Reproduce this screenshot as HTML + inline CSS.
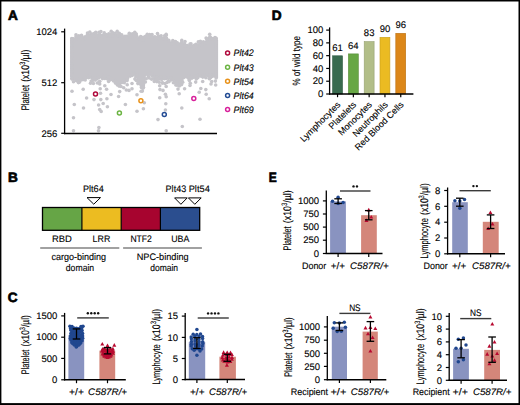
<!DOCTYPE html>
<html><head><meta charset="utf-8"><style>
html,body{margin:0;padding:0;background:#fff;}
svg{display:block;font-family:"Liberation Sans", sans-serif;text-rendering:geometricPrecision;}
text{stroke:#000;stroke-width:0.12px;}
</style></head><body>
<svg width="520" height="405" viewBox="0 0 520 405">
<rect x="0" y="0" width="520" height="405" fill="#000"/>
<rect x="1.4" y="1.5" width="517.1" height="401.6" fill="#fff"/>
<text x="8.1" y="19.7" font-size="13.6" font-weight="bold" style="stroke-width:0.7px">A</text>
<text x="8.0" y="181.9" font-size="13.6" font-weight="bold" style="stroke-width:0.7px">B</text>
<text x="7.7" y="302.0" font-size="13.6" font-weight="bold" style="stroke-width:0.7px">C</text>
<text x="271.7" y="19.7" font-size="13.6" font-weight="bold" style="stroke-width:0.7px">D</text>
<text x="268.8" y="181.9" font-size="13.6" font-weight="bold" textLength="8.0" lengthAdjust="spacingAndGlyphs" style="stroke-width:0.7px">E</text>
<path d="M71.8,36.8 L73.0,39.8 L76.0,38.8 L78.0,35.3 L81.0,35.3 L83.0,37.8 L85.0,38.8 L87.0,34.8 L90.0,33.8 L94.0,33.8 L97.0,34.3 L100.0,34.8 L104.0,34.8 L108.0,33.8 L110.0,33.3 L113.0,34.3 L115.0,33.3 L118.0,33.8 L121.0,35.3 L124.0,35.8 L127.0,36.8 L130.0,34.8 L133.0,33.3 L136.0,34.8 L138.0,37.8 L143.0,38.3 L146.0,35.8 L147.0,34.3 L150.0,35.3 L152.0,34.8 L154.0,36.8 L157.0,36.3 L160.0,36.8 L162.0,36.8 L165.0,36.8 L167.0,35.8 L169.0,40.8 L172.0,42.8 L175.0,42.3 L176.0,41.3 L178.0,43.3 L180.0,43.3 L182.0,39.8 L184.0,44.3 L190.0,44.8 L195.0,45.3 L200.0,43.3 L204.0,42.3 L207.0,39.8 L209.0,34.8 L211.0,35.8 L213.0,38.8 L216.0,39.3 L216.2,39.8 L216.2,79.2 L215.0,77.2 L210.0,76.2 L205.0,76.2 L200.0,77.2 L196.0,78.2 L190.0,78.2 L184.0,78.2 L182.0,84.2 L179.0,86.2 L176.0,85.2 L174.0,80.2 L170.0,79.2 L165.0,79.2 L160.0,79.2 L155.0,78.2 L153.0,76.2 L150.0,75.2 L146.0,75.2 L145.0,86.2 L143.0,90.2 L141.0,88.2 L138.0,83.2 L136.0,76.2 L133.0,74.7 L130.0,75.2 L128.0,79.2 L125.0,82.7 L120.0,83.7 L115.0,82.7 L112.0,79.7 L108.0,77.7 L104.0,77.7 L100.0,78.2 L96.0,80.2 L92.0,80.2 L90.0,77.2 L88.0,78.2 L85.0,80.2 L80.0,81.2 L75.0,80.7 L71.8,79.2 Z" fill="#c5c4c9"/>
<rect x="70.1" y="40" width="3" height="37" fill="#c5c4c9"/>
<rect x="215" y="40" width="3.1" height="38" fill="#c5c4c9"/>
<circle cx="71.8" cy="38.8" r="1.8" fill="#c5c4c9"/>
<circle cx="72.6" cy="40.4" r="1.8" fill="#c5c4c9"/>
<circle cx="72.0" cy="79.1" r="1.8" fill="#c5c4c9"/>
<circle cx="71.9" cy="78.3" r="1.8" fill="#c5c4c9"/>
<circle cx="73.6" cy="38.9" r="1.8" fill="#c5c4c9"/>
<circle cx="73.5" cy="41.5" r="1.8" fill="#c5c4c9"/>
<circle cx="73.5" cy="81.8" r="1.8" fill="#c5c4c9"/>
<circle cx="74.9" cy="79.0" r="1.8" fill="#c5c4c9"/>
<circle cx="76.0" cy="36.8" r="1.8" fill="#c5c4c9"/>
<circle cx="76.5" cy="39.0" r="1.8" fill="#c5c4c9"/>
<circle cx="76.0" cy="34.7" r="1.8" fill="#c5c4c9"/>
<circle cx="76.4" cy="80.8" r="1.8" fill="#c5c4c9"/>
<circle cx="77.0" cy="79.2" r="1.8" fill="#c5c4c9"/>
<circle cx="78.8" cy="35.7" r="1.8" fill="#c5c4c9"/>
<circle cx="78.7" cy="36.7" r="1.8" fill="#c5c4c9"/>
<circle cx="79.6" cy="82.1" r="1.8" fill="#c5c4c9"/>
<circle cx="79.1" cy="79.1" r="1.8" fill="#c5c4c9"/>
<circle cx="78.4" cy="82.6" r="1.8" fill="#c5c4c9"/>
<circle cx="81.5" cy="35.2" r="1.8" fill="#c5c4c9"/>
<circle cx="81.7" cy="37.0" r="1.8" fill="#c5c4c9"/>
<circle cx="81.7" cy="79.8" r="1.8" fill="#c5c4c9"/>
<circle cx="80.6" cy="79.9" r="1.8" fill="#c5c4c9"/>
<circle cx="84.2" cy="37.8" r="1.8" fill="#c5c4c9"/>
<circle cx="82.7" cy="39.9" r="1.8" fill="#c5c4c9"/>
<circle cx="83.0" cy="79.5" r="1.8" fill="#c5c4c9"/>
<circle cx="83.1" cy="79.5" r="1.8" fill="#c5c4c9"/>
<circle cx="85.1" cy="36.8" r="1.8" fill="#c5c4c9"/>
<circle cx="85.1" cy="38.5" r="1.8" fill="#c5c4c9"/>
<circle cx="85.2" cy="80.0" r="1.8" fill="#c5c4c9"/>
<circle cx="85.6" cy="77.6" r="1.8" fill="#c5c4c9"/>
<circle cx="87.4" cy="34.8" r="1.8" fill="#c5c4c9"/>
<circle cx="87.4" cy="36.1" r="1.8" fill="#c5c4c9"/>
<circle cx="87.5" cy="33.1" r="1.8" fill="#c5c4c9"/>
<circle cx="88.5" cy="77.8" r="1.8" fill="#c5c4c9"/>
<circle cx="88.6" cy="76.1" r="1.8" fill="#c5c4c9"/>
<circle cx="90.9" cy="34.1" r="1.8" fill="#c5c4c9"/>
<circle cx="89.7" cy="36.2" r="1.8" fill="#c5c4c9"/>
<circle cx="89.8" cy="32.0" r="1.8" fill="#c5c4c9"/>
<circle cx="90.0" cy="77.2" r="1.8" fill="#c5c4c9"/>
<circle cx="89.6" cy="75.4" r="1.8" fill="#c5c4c9"/>
<circle cx="92.2" cy="34.0" r="1.8" fill="#c5c4c9"/>
<circle cx="92.4" cy="35.4" r="1.8" fill="#c5c4c9"/>
<circle cx="92.6" cy="80.5" r="1.8" fill="#c5c4c9"/>
<circle cx="93.2" cy="78.1" r="1.8" fill="#c5c4c9"/>
<circle cx="93.4" cy="83.5" r="1.8" fill="#c5c4c9"/>
<circle cx="94.5" cy="33.2" r="1.8" fill="#c5c4c9"/>
<circle cx="95.3" cy="36.3" r="1.8" fill="#c5c4c9"/>
<circle cx="95.8" cy="32.4" r="1.8" fill="#c5c4c9"/>
<circle cx="95.1" cy="80.1" r="1.8" fill="#c5c4c9"/>
<circle cx="94.3" cy="77.9" r="1.8" fill="#c5c4c9"/>
<circle cx="96.8" cy="34.8" r="1.8" fill="#c5c4c9"/>
<circle cx="96.8" cy="36.5" r="1.8" fill="#c5c4c9"/>
<circle cx="96.9" cy="78.9" r="1.8" fill="#c5c4c9"/>
<circle cx="97.6" cy="77.3" r="1.8" fill="#c5c4c9"/>
<circle cx="97.3" cy="83.0" r="1.8" fill="#c5c4c9"/>
<circle cx="99.7" cy="34.2" r="1.8" fill="#c5c4c9"/>
<circle cx="100.2" cy="36.0" r="1.8" fill="#c5c4c9"/>
<circle cx="99.0" cy="32.3" r="1.8" fill="#c5c4c9"/>
<circle cx="98.8" cy="77.7" r="1.8" fill="#c5c4c9"/>
<circle cx="99.3" cy="76.9" r="1.8" fill="#c5c4c9"/>
<circle cx="99.2" cy="82.0" r="1.8" fill="#c5c4c9"/>
<circle cx="102.6" cy="35.2" r="1.8" fill="#c5c4c9"/>
<circle cx="102.1" cy="36.6" r="1.8" fill="#c5c4c9"/>
<circle cx="100.9" cy="31.5" r="1.8" fill="#c5c4c9"/>
<circle cx="102.5" cy="78.6" r="1.8" fill="#c5c4c9"/>
<circle cx="102.5" cy="75.6" r="1.8" fill="#c5c4c9"/>
<circle cx="104.1" cy="35.3" r="1.8" fill="#c5c4c9"/>
<circle cx="103.8" cy="37.2" r="1.8" fill="#c5c4c9"/>
<circle cx="104.2" cy="32.9" r="1.8" fill="#c5c4c9"/>
<circle cx="104.7" cy="78.4" r="1.8" fill="#c5c4c9"/>
<circle cx="104.4" cy="76.4" r="1.8" fill="#c5c4c9"/>
<circle cx="106.2" cy="34.6" r="1.8" fill="#c5c4c9"/>
<circle cx="107.0" cy="36.4" r="1.8" fill="#c5c4c9"/>
<circle cx="106.9" cy="78.7" r="1.8" fill="#c5c4c9"/>
<circle cx="106.5" cy="76.2" r="1.8" fill="#c5c4c9"/>
<circle cx="108.8" cy="33.9" r="1.8" fill="#c5c4c9"/>
<circle cx="108.0" cy="35.5" r="1.8" fill="#c5c4c9"/>
<circle cx="109.3" cy="78.7" r="1.8" fill="#c5c4c9"/>
<circle cx="108.5" cy="76.7" r="1.8" fill="#c5c4c9"/>
<circle cx="110.9" cy="34.4" r="1.8" fill="#c5c4c9"/>
<circle cx="110.3" cy="35.7" r="1.8" fill="#c5c4c9"/>
<circle cx="111.2" cy="31.3" r="1.8" fill="#c5c4c9"/>
<circle cx="110.6" cy="79.8" r="1.8" fill="#c5c4c9"/>
<circle cx="111.0" cy="77.7" r="1.8" fill="#c5c4c9"/>
<circle cx="112.9" cy="33.0" r="1.8" fill="#c5c4c9"/>
<circle cx="113.0" cy="36.1" r="1.8" fill="#c5c4c9"/>
<circle cx="112.6" cy="32.7" r="1.8" fill="#c5c4c9"/>
<circle cx="113.6" cy="80.9" r="1.8" fill="#c5c4c9"/>
<circle cx="113.9" cy="79.1" r="1.8" fill="#c5c4c9"/>
<circle cx="115.1" cy="33.2" r="1.8" fill="#c5c4c9"/>
<circle cx="116.1" cy="35.7" r="1.8" fill="#c5c4c9"/>
<circle cx="115.4" cy="83.1" r="1.8" fill="#c5c4c9"/>
<circle cx="115.3" cy="80.6" r="1.8" fill="#c5c4c9"/>
<circle cx="118.4" cy="34.6" r="1.8" fill="#c5c4c9"/>
<circle cx="118.2" cy="36.1" r="1.8" fill="#c5c4c9"/>
<circle cx="117.2" cy="31.4" r="1.8" fill="#c5c4c9"/>
<circle cx="117.5" cy="82.6" r="1.8" fill="#c5c4c9"/>
<circle cx="117.8" cy="81.8" r="1.8" fill="#c5c4c9"/>
<circle cx="119.9" cy="35.7" r="1.8" fill="#c5c4c9"/>
<circle cx="121.0" cy="36.5" r="1.8" fill="#c5c4c9"/>
<circle cx="119.3" cy="33.3" r="1.8" fill="#c5c4c9"/>
<circle cx="119.5" cy="84.3" r="1.8" fill="#c5c4c9"/>
<circle cx="120.3" cy="81.7" r="1.8" fill="#c5c4c9"/>
<circle cx="121.7" cy="34.7" r="1.8" fill="#c5c4c9"/>
<circle cx="122.4" cy="36.6" r="1.8" fill="#c5c4c9"/>
<circle cx="122.1" cy="82.4" r="1.8" fill="#c5c4c9"/>
<circle cx="121.8" cy="81.7" r="1.8" fill="#c5c4c9"/>
<circle cx="125.0" cy="36.4" r="1.8" fill="#c5c4c9"/>
<circle cx="125.3" cy="38.4" r="1.8" fill="#c5c4c9"/>
<circle cx="124.3" cy="82.8" r="1.8" fill="#c5c4c9"/>
<circle cx="124.3" cy="80.4" r="1.8" fill="#c5c4c9"/>
<circle cx="127.4" cy="36.0" r="1.8" fill="#c5c4c9"/>
<circle cx="126.7" cy="38.2" r="1.8" fill="#c5c4c9"/>
<circle cx="127.1" cy="80.6" r="1.8" fill="#c5c4c9"/>
<circle cx="127.5" cy="78.4" r="1.8" fill="#c5c4c9"/>
<circle cx="130.0" cy="34.2" r="1.8" fill="#c5c4c9"/>
<circle cx="130.1" cy="37.2" r="1.8" fill="#c5c4c9"/>
<circle cx="129.3" cy="33.2" r="1.8" fill="#c5c4c9"/>
<circle cx="130.1" cy="76.2" r="1.8" fill="#c5c4c9"/>
<circle cx="129.5" cy="75.2" r="1.8" fill="#c5c4c9"/>
<circle cx="132.4" cy="33.9" r="1.8" fill="#c5c4c9"/>
<circle cx="131.9" cy="35.2" r="1.8" fill="#c5c4c9"/>
<circle cx="132.2" cy="75.4" r="1.8" fill="#c5c4c9"/>
<circle cx="132.0" cy="72.8" r="1.8" fill="#c5c4c9"/>
<circle cx="134.8" cy="34.9" r="1.8" fill="#c5c4c9"/>
<circle cx="134.1" cy="35.9" r="1.8" fill="#c5c4c9"/>
<circle cx="134.8" cy="32.2" r="1.8" fill="#c5c4c9"/>
<circle cx="133.8" cy="74.2" r="1.8" fill="#c5c4c9"/>
<circle cx="133.9" cy="73.6" r="1.8" fill="#c5c4c9"/>
<circle cx="136.3" cy="34.1" r="1.8" fill="#c5c4c9"/>
<circle cx="136.8" cy="36.3" r="1.8" fill="#c5c4c9"/>
<circle cx="135.8" cy="76.9" r="1.8" fill="#c5c4c9"/>
<circle cx="136.8" cy="75.0" r="1.8" fill="#c5c4c9"/>
<circle cx="136.3" cy="80.4" r="1.8" fill="#c5c4c9"/>
<circle cx="139.1" cy="38.3" r="1.8" fill="#c5c4c9"/>
<circle cx="139.3" cy="39.5" r="1.8" fill="#c5c4c9"/>
<circle cx="137.9" cy="83.6" r="1.8" fill="#c5c4c9"/>
<circle cx="138.6" cy="82.2" r="1.8" fill="#c5c4c9"/>
<circle cx="141.1" cy="38.1" r="1.8" fill="#c5c4c9"/>
<circle cx="141.4" cy="39.9" r="1.8" fill="#c5c4c9"/>
<circle cx="140.7" cy="36.5" r="1.8" fill="#c5c4c9"/>
<circle cx="141.5" cy="87.4" r="1.8" fill="#c5c4c9"/>
<circle cx="141.5" cy="87.0" r="1.8" fill="#c5c4c9"/>
<circle cx="143.3" cy="37.4" r="1.8" fill="#c5c4c9"/>
<circle cx="143.3" cy="39.8" r="1.8" fill="#c5c4c9"/>
<circle cx="142.4" cy="91.1" r="1.8" fill="#c5c4c9"/>
<circle cx="143.2" cy="88.0" r="1.8" fill="#c5c4c9"/>
<circle cx="145.6" cy="36.2" r="1.8" fill="#c5c4c9"/>
<circle cx="145.8" cy="37.3" r="1.8" fill="#c5c4c9"/>
<circle cx="145.4" cy="82.0" r="1.8" fill="#c5c4c9"/>
<circle cx="146.2" cy="78.7" r="1.8" fill="#c5c4c9"/>
<circle cx="147.2" cy="34.4" r="1.8" fill="#c5c4c9"/>
<circle cx="148.3" cy="36.8" r="1.8" fill="#c5c4c9"/>
<circle cx="147.5" cy="74.5" r="1.8" fill="#c5c4c9"/>
<circle cx="148.0" cy="74.1" r="1.8" fill="#c5c4c9"/>
<circle cx="148.4" cy="76.6" r="1.8" fill="#c5c4c9"/>
<circle cx="149.6" cy="34.6" r="1.8" fill="#c5c4c9"/>
<circle cx="150.4" cy="36.7" r="1.8" fill="#c5c4c9"/>
<circle cx="150.3" cy="74.3" r="1.8" fill="#c5c4c9"/>
<circle cx="150.5" cy="73.0" r="1.8" fill="#c5c4c9"/>
<circle cx="152.0" cy="34.5" r="1.8" fill="#c5c4c9"/>
<circle cx="152.4" cy="36.8" r="1.8" fill="#c5c4c9"/>
<circle cx="152.3" cy="76.2" r="1.8" fill="#c5c4c9"/>
<circle cx="151.9" cy="73.9" r="1.8" fill="#c5c4c9"/>
<circle cx="154.9" cy="36.8" r="1.8" fill="#c5c4c9"/>
<circle cx="155.3" cy="38.5" r="1.8" fill="#c5c4c9"/>
<circle cx="154.3" cy="78.6" r="1.8" fill="#c5c4c9"/>
<circle cx="155.2" cy="76.8" r="1.8" fill="#c5c4c9"/>
<circle cx="154.3" cy="81.5" r="1.8" fill="#c5c4c9"/>
<circle cx="156.5" cy="37.5" r="1.8" fill="#c5c4c9"/>
<circle cx="157.6" cy="37.5" r="1.8" fill="#c5c4c9"/>
<circle cx="157.5" cy="33.5" r="1.8" fill="#c5c4c9"/>
<circle cx="156.4" cy="79.6" r="1.8" fill="#c5c4c9"/>
<circle cx="156.9" cy="77.3" r="1.8" fill="#c5c4c9"/>
<circle cx="156.8" cy="81.6" r="1.8" fill="#c5c4c9"/>
<circle cx="158.5" cy="36.0" r="1.8" fill="#c5c4c9"/>
<circle cx="159.6" cy="39.0" r="1.8" fill="#c5c4c9"/>
<circle cx="158.7" cy="79.2" r="1.8" fill="#c5c4c9"/>
<circle cx="159.7" cy="77.4" r="1.8" fill="#c5c4c9"/>
<circle cx="161.1" cy="35.8" r="1.8" fill="#c5c4c9"/>
<circle cx="161.0" cy="37.9" r="1.8" fill="#c5c4c9"/>
<circle cx="161.6" cy="79.5" r="1.8" fill="#c5c4c9"/>
<circle cx="161.0" cy="77.1" r="1.8" fill="#c5c4c9"/>
<circle cx="162.3" cy="83.0" r="1.8" fill="#c5c4c9"/>
<circle cx="164.6" cy="35.8" r="1.8" fill="#c5c4c9"/>
<circle cx="163.2" cy="39.1" r="1.8" fill="#c5c4c9"/>
<circle cx="164.3" cy="78.8" r="1.8" fill="#c5c4c9"/>
<circle cx="163.8" cy="77.5" r="1.8" fill="#c5c4c9"/>
<circle cx="166.4" cy="35.0" r="1.8" fill="#c5c4c9"/>
<circle cx="166.5" cy="38.4" r="1.8" fill="#c5c4c9"/>
<circle cx="166.1" cy="34.4" r="1.8" fill="#c5c4c9"/>
<circle cx="166.0" cy="78.5" r="1.8" fill="#c5c4c9"/>
<circle cx="165.7" cy="77.5" r="1.8" fill="#c5c4c9"/>
<circle cx="167.0" cy="82.5" r="1.8" fill="#c5c4c9"/>
<circle cx="168.8" cy="40.4" r="1.8" fill="#c5c4c9"/>
<circle cx="168.7" cy="41.1" r="1.8" fill="#c5c4c9"/>
<circle cx="168.5" cy="80.6" r="1.8" fill="#c5c4c9"/>
<circle cx="169.0" cy="77.2" r="1.8" fill="#c5c4c9"/>
<circle cx="171.2" cy="42.7" r="1.8" fill="#c5c4c9"/>
<circle cx="171.3" cy="43.6" r="1.8" fill="#c5c4c9"/>
<circle cx="171.4" cy="80.0" r="1.8" fill="#c5c4c9"/>
<circle cx="171.2" cy="78.1" r="1.8" fill="#c5c4c9"/>
<circle cx="173.5" cy="41.6" r="1.8" fill="#c5c4c9"/>
<circle cx="172.8" cy="44.3" r="1.8" fill="#c5c4c9"/>
<circle cx="172.8" cy="40.6" r="1.8" fill="#c5c4c9"/>
<circle cx="173.3" cy="79.4" r="1.8" fill="#c5c4c9"/>
<circle cx="173.8" cy="78.5" r="1.8" fill="#c5c4c9"/>
<circle cx="173.4" cy="82.7" r="1.8" fill="#c5c4c9"/>
<circle cx="175.5" cy="41.6" r="1.8" fill="#c5c4c9"/>
<circle cx="176.2" cy="43.8" r="1.8" fill="#c5c4c9"/>
<circle cx="175.8" cy="85.0" r="1.8" fill="#c5c4c9"/>
<circle cx="174.6" cy="82.2" r="1.8" fill="#c5c4c9"/>
<circle cx="177.3" cy="42.8" r="1.8" fill="#c5c4c9"/>
<circle cx="177.0" cy="44.3" r="1.8" fill="#c5c4c9"/>
<circle cx="177.1" cy="85.2" r="1.8" fill="#c5c4c9"/>
<circle cx="178.3" cy="84.1" r="1.8" fill="#c5c4c9"/>
<circle cx="180.7" cy="43.5" r="1.8" fill="#c5c4c9"/>
<circle cx="180.8" cy="45.2" r="1.8" fill="#c5c4c9"/>
<circle cx="179.3" cy="85.9" r="1.8" fill="#c5c4c9"/>
<circle cx="180.4" cy="83.2" r="1.8" fill="#c5c4c9"/>
<circle cx="181.8" cy="40.4" r="1.8" fill="#c5c4c9"/>
<circle cx="181.8" cy="42.2" r="1.8" fill="#c5c4c9"/>
<circle cx="181.6" cy="84.6" r="1.8" fill="#c5c4c9"/>
<circle cx="182.2" cy="81.6" r="1.8" fill="#c5c4c9"/>
<circle cx="184.4" cy="43.8" r="1.8" fill="#c5c4c9"/>
<circle cx="184.8" cy="46.1" r="1.8" fill="#c5c4c9"/>
<circle cx="185.0" cy="41.6" r="1.8" fill="#c5c4c9"/>
<circle cx="183.8" cy="77.6" r="1.8" fill="#c5c4c9"/>
<circle cx="183.9" cy="76.0" r="1.8" fill="#c5c4c9"/>
<circle cx="186.7" cy="45.5" r="1.8" fill="#c5c4c9"/>
<circle cx="187.3" cy="45.6" r="1.8" fill="#c5c4c9"/>
<circle cx="187.6" cy="77.2" r="1.8" fill="#c5c4c9"/>
<circle cx="187.5" cy="76.4" r="1.8" fill="#c5c4c9"/>
<circle cx="190.0" cy="44.1" r="1.8" fill="#c5c4c9"/>
<circle cx="189.2" cy="47.0" r="1.8" fill="#c5c4c9"/>
<circle cx="189.1" cy="79.5" r="1.8" fill="#c5c4c9"/>
<circle cx="189.7" cy="76.6" r="1.8" fill="#c5c4c9"/>
<circle cx="189.4" cy="80.6" r="1.8" fill="#c5c4c9"/>
<circle cx="191.0" cy="43.9" r="1.8" fill="#c5c4c9"/>
<circle cx="191.5" cy="46.1" r="1.8" fill="#c5c4c9"/>
<circle cx="191.8" cy="78.2" r="1.8" fill="#c5c4c9"/>
<circle cx="191.1" cy="76.6" r="1.8" fill="#c5c4c9"/>
<circle cx="194.2" cy="45.3" r="1.8" fill="#c5c4c9"/>
<circle cx="194.6" cy="47.5" r="1.8" fill="#c5c4c9"/>
<circle cx="193.4" cy="77.3" r="1.8" fill="#c5c4c9"/>
<circle cx="194.4" cy="76.9" r="1.8" fill="#c5c4c9"/>
<circle cx="195.9" cy="44.3" r="1.8" fill="#c5c4c9"/>
<circle cx="196.4" cy="46.7" r="1.8" fill="#c5c4c9"/>
<circle cx="196.3" cy="78.9" r="1.8" fill="#c5c4c9"/>
<circle cx="195.6" cy="76.1" r="1.8" fill="#c5c4c9"/>
<circle cx="199.1" cy="44.8" r="1.8" fill="#c5c4c9"/>
<circle cx="197.7" cy="45.0" r="1.8" fill="#c5c4c9"/>
<circle cx="198.3" cy="41.9" r="1.8" fill="#c5c4c9"/>
<circle cx="197.8" cy="77.8" r="1.8" fill="#c5c4c9"/>
<circle cx="197.7" cy="75.3" r="1.8" fill="#c5c4c9"/>
<circle cx="200.8" cy="43.4" r="1.8" fill="#c5c4c9"/>
<circle cx="200.5" cy="44.8" r="1.8" fill="#c5c4c9"/>
<circle cx="200.4" cy="41.3" r="1.8" fill="#c5c4c9"/>
<circle cx="201.2" cy="76.1" r="1.8" fill="#c5c4c9"/>
<circle cx="200.1" cy="75.8" r="1.8" fill="#c5c4c9"/>
<circle cx="203.4" cy="41.9" r="1.8" fill="#c5c4c9"/>
<circle cx="202.9" cy="43.9" r="1.8" fill="#c5c4c9"/>
<circle cx="202.8" cy="77.1" r="1.8" fill="#c5c4c9"/>
<circle cx="203.8" cy="74.7" r="1.8" fill="#c5c4c9"/>
<circle cx="205.7" cy="42.2" r="1.8" fill="#c5c4c9"/>
<circle cx="205.2" cy="42.7" r="1.8" fill="#c5c4c9"/>
<circle cx="206.1" cy="38.1" r="1.8" fill="#c5c4c9"/>
<circle cx="204.6" cy="76.5" r="1.8" fill="#c5c4c9"/>
<circle cx="205.3" cy="74.8" r="1.8" fill="#c5c4c9"/>
<circle cx="205.9" cy="77.7" r="1.8" fill="#c5c4c9"/>
<circle cx="207.1" cy="38.7" r="1.8" fill="#c5c4c9"/>
<circle cx="206.9" cy="39.7" r="1.8" fill="#c5c4c9"/>
<circle cx="207.9" cy="75.7" r="1.8" fill="#c5c4c9"/>
<circle cx="207.0" cy="74.3" r="1.8" fill="#c5c4c9"/>
<circle cx="209.7" cy="34.3" r="1.8" fill="#c5c4c9"/>
<circle cx="210.2" cy="37.0" r="1.8" fill="#c5c4c9"/>
<circle cx="210.6" cy="77.4" r="1.8" fill="#c5c4c9"/>
<circle cx="209.8" cy="74.9" r="1.8" fill="#c5c4c9"/>
<circle cx="209.5" cy="78.5" r="1.8" fill="#c5c4c9"/>
<circle cx="212.9" cy="38.5" r="1.8" fill="#c5c4c9"/>
<circle cx="211.8" cy="39.1" r="1.8" fill="#c5c4c9"/>
<circle cx="212.0" cy="76.5" r="1.8" fill="#c5c4c9"/>
<circle cx="212.0" cy="74.5" r="1.8" fill="#c5c4c9"/>
<circle cx="215.0" cy="39.1" r="1.8" fill="#c5c4c9"/>
<circle cx="215.0" cy="40.8" r="1.8" fill="#c5c4c9"/>
<circle cx="215.0" cy="37.5" r="1.8" fill="#c5c4c9"/>
<circle cx="214.2" cy="76.0" r="1.8" fill="#c5c4c9"/>
<circle cx="214.5" cy="75.5" r="1.8" fill="#c5c4c9"/>
<circle cx="90.5" cy="83.2" r="1.8" fill="#c5c4c9"/>
<circle cx="99.8" cy="81.3" r="1.8" fill="#c5c4c9"/>
<circle cx="108.6" cy="81.4" r="1.8" fill="#c5c4c9"/>
<circle cx="119.1" cy="86.1" r="1.8" fill="#c5c4c9"/>
<circle cx="123.7" cy="87.7" r="1.8" fill="#c5c4c9"/>
<circle cx="127.2" cy="84.7" r="1.8" fill="#c5c4c9"/>
<circle cx="134.9" cy="79.1" r="1.8" fill="#c5c4c9"/>
<circle cx="141.1" cy="91.2" r="1.8" fill="#c5c4c9"/>
<circle cx="149.2" cy="78.0" r="1.8" fill="#c5c4c9"/>
<circle cx="151.7" cy="79.3" r="1.8" fill="#c5c4c9"/>
<circle cx="159.2" cy="82.3" r="1.8" fill="#c5c4c9"/>
<circle cx="162.5" cy="82.9" r="1.8" fill="#c5c4c9"/>
<circle cx="165.0" cy="83.6" r="1.8" fill="#c5c4c9"/>
<circle cx="169.1" cy="81.6" r="1.8" fill="#c5c4c9"/>
<circle cx="178.0" cy="89.1" r="1.8" fill="#c5c4c9"/>
<circle cx="182.7" cy="82.2" r="1.8" fill="#c5c4c9"/>
<circle cx="190.3" cy="83.3" r="1.8" fill="#c5c4c9"/>
<circle cx="195.7" cy="82.1" r="1.8" fill="#c5c4c9"/>
<circle cx="202.7" cy="81.5" r="1.8" fill="#c5c4c9"/>
<circle cx="209.3" cy="78.8" r="1.8" fill="#c5c4c9"/>
<circle cx="211.7" cy="81.6" r="1.8" fill="#c5c4c9"/>
<circle cx="215.4" cy="81.1" r="1.8" fill="#c5c4c9"/>
<circle cx="71.9" cy="38.5" r="1.8" fill="#c5c4c9"/>
<circle cx="216.2" cy="38.2" r="1.8" fill="#c5c4c9"/>
<circle cx="71.9" cy="40.3" r="1.8" fill="#c5c4c9"/>
<circle cx="216.2" cy="39.6" r="1.8" fill="#c5c4c9"/>
<circle cx="71.9" cy="42.0" r="1.8" fill="#c5c4c9"/>
<circle cx="216.2" cy="42.3" r="1.8" fill="#c5c4c9"/>
<circle cx="71.9" cy="43.6" r="1.8" fill="#c5c4c9"/>
<circle cx="216.2" cy="43.6" r="1.8" fill="#c5c4c9"/>
<circle cx="71.9" cy="46.2" r="1.8" fill="#c5c4c9"/>
<circle cx="216.2" cy="46.4" r="1.8" fill="#c5c4c9"/>
<circle cx="71.9" cy="47.6" r="1.8" fill="#c5c4c9"/>
<circle cx="216.2" cy="48.1" r="1.8" fill="#c5c4c9"/>
<circle cx="71.9" cy="49.6" r="1.8" fill="#c5c4c9"/>
<circle cx="216.2" cy="50.2" r="1.8" fill="#c5c4c9"/>
<circle cx="71.9" cy="52.1" r="1.8" fill="#c5c4c9"/>
<circle cx="216.2" cy="51.7" r="1.8" fill="#c5c4c9"/>
<circle cx="71.9" cy="53.7" r="1.8" fill="#c5c4c9"/>
<circle cx="216.2" cy="54.3" r="1.8" fill="#c5c4c9"/>
<circle cx="71.9" cy="56.0" r="1.8" fill="#c5c4c9"/>
<circle cx="216.2" cy="56.3" r="1.8" fill="#c5c4c9"/>
<circle cx="71.9" cy="57.9" r="1.8" fill="#c5c4c9"/>
<circle cx="216.2" cy="57.8" r="1.8" fill="#c5c4c9"/>
<circle cx="71.9" cy="60.5" r="1.8" fill="#c5c4c9"/>
<circle cx="216.2" cy="60.2" r="1.8" fill="#c5c4c9"/>
<circle cx="71.9" cy="62.0" r="1.8" fill="#c5c4c9"/>
<circle cx="216.2" cy="62.0" r="1.8" fill="#c5c4c9"/>
<circle cx="71.9" cy="64.2" r="1.8" fill="#c5c4c9"/>
<circle cx="216.2" cy="64.2" r="1.8" fill="#c5c4c9"/>
<circle cx="71.9" cy="66.4" r="1.8" fill="#c5c4c9"/>
<circle cx="216.2" cy="65.9" r="1.8" fill="#c5c4c9"/>
<circle cx="71.9" cy="68.3" r="1.8" fill="#c5c4c9"/>
<circle cx="216.2" cy="68.2" r="1.8" fill="#c5c4c9"/>
<circle cx="71.9" cy="70.4" r="1.8" fill="#c5c4c9"/>
<circle cx="216.2" cy="70.3" r="1.8" fill="#c5c4c9"/>
<circle cx="71.9" cy="72.3" r="1.8" fill="#c5c4c9"/>
<circle cx="216.2" cy="72.4" r="1.8" fill="#c5c4c9"/>
<circle cx="71.9" cy="74.5" r="1.8" fill="#c5c4c9"/>
<circle cx="216.2" cy="74.1" r="1.8" fill="#c5c4c9"/>
<circle cx="71.9" cy="76.0" r="1.8" fill="#c5c4c9"/>
<circle cx="216.2" cy="76.2" r="1.8" fill="#c5c4c9"/>
<circle cx="71.9" cy="78.3" r="1.8" fill="#c5c4c9"/>
<circle cx="216.2" cy="77.9" r="1.8" fill="#c5c4c9"/>
<circle cx="72.0" cy="91.2" r="1.8" fill="#c5c4c9"/>
<circle cx="83.2" cy="89.2" r="1.8" fill="#c5c4c9"/>
<circle cx="86.6" cy="98.0" r="1.8" fill="#c5c4c9"/>
<circle cx="74.3" cy="104.5" r="1.8" fill="#c5c4c9"/>
<circle cx="83.5" cy="108.0" r="1.8" fill="#c5c4c9"/>
<circle cx="73.5" cy="117.8" r="1.8" fill="#c5c4c9"/>
<circle cx="73.5" cy="130.7" r="1.8" fill="#c5c4c9"/>
<circle cx="94.0" cy="99.6" r="1.8" fill="#c5c4c9"/>
<circle cx="100.8" cy="99.6" r="1.8" fill="#c5c4c9"/>
<circle cx="98.6" cy="105.0" r="1.8" fill="#c5c4c9"/>
<circle cx="103.2" cy="103.5" r="1.8" fill="#c5c4c9"/>
<circle cx="99.7" cy="109.6" r="1.8" fill="#c5c4c9"/>
<circle cx="101.2" cy="111.5" r="1.8" fill="#c5c4c9"/>
<circle cx="107.4" cy="106.8" r="1.8" fill="#c5c4c9"/>
<circle cx="106.9" cy="98.8" r="1.8" fill="#c5c4c9"/>
<circle cx="111.0" cy="94.5" r="1.8" fill="#c5c4c9"/>
<circle cx="100.5" cy="93.2" r="1.8" fill="#c5c4c9"/>
<circle cx="100.2" cy="88.8" r="1.8" fill="#c5c4c9"/>
<circle cx="99.7" cy="84.0" r="1.8" fill="#c5c4c9"/>
<circle cx="104.8" cy="85.8" r="1.8" fill="#c5c4c9"/>
<circle cx="106.6" cy="89.2" r="1.8" fill="#c5c4c9"/>
<circle cx="98.9" cy="127.6" r="1.8" fill="#c5c4c9"/>
<circle cx="98.5" cy="130.7" r="1.8" fill="#c5c4c9"/>
<circle cx="118.6" cy="96.5" r="1.8" fill="#c5c4c9"/>
<circle cx="119.7" cy="91.6" r="1.8" fill="#c5c4c9"/>
<circle cx="125.4" cy="104.5" r="1.8" fill="#c5c4c9"/>
<circle cx="126.3" cy="90.0" r="1.8" fill="#c5c4c9"/>
<circle cx="129.0" cy="90.4" r="1.8" fill="#c5c4c9"/>
<circle cx="132.0" cy="83.5" r="1.8" fill="#c5c4c9"/>
<circle cx="132.0" cy="88.8" r="1.8" fill="#c5c4c9"/>
<circle cx="137.0" cy="94.7" r="1.8" fill="#c5c4c9"/>
<circle cx="137.0" cy="111.2" r="1.8" fill="#c5c4c9"/>
<circle cx="117.4" cy="85.0" r="1.8" fill="#c5c4c9"/>
<circle cx="91.2" cy="81.0" r="1.8" fill="#c5c4c9"/>
<circle cx="121.0" cy="86.5" r="1.8" fill="#c5c4c9"/>
<circle cx="143.4" cy="87.3" r="1.8" fill="#c5c4c9"/>
<circle cx="144.3" cy="102.7" r="1.8" fill="#c5c4c9"/>
<circle cx="143.4" cy="108.8" r="1.8" fill="#c5c4c9"/>
<circle cx="159.7" cy="85.8" r="1.8" fill="#c5c4c9"/>
<circle cx="160.0" cy="89.6" r="1.8" fill="#c5c4c9"/>
<circle cx="163.0" cy="90.4" r="1.8" fill="#c5c4c9"/>
<circle cx="166.2" cy="86.5" r="1.8" fill="#c5c4c9"/>
<circle cx="165.4" cy="94.2" r="1.8" fill="#c5c4c9"/>
<circle cx="166.2" cy="96.8" r="1.8" fill="#c5c4c9"/>
<circle cx="159.7" cy="97.8" r="1.8" fill="#c5c4c9"/>
<circle cx="165.8" cy="103.8" r="1.8" fill="#c5c4c9"/>
<circle cx="165.4" cy="110.0" r="1.8" fill="#c5c4c9"/>
<circle cx="158.0" cy="119.6" r="1.8" fill="#c5c4c9"/>
<circle cx="166.2" cy="130.7" r="1.8" fill="#c5c4c9"/>
<circle cx="179.2" cy="93.8" r="1.8" fill="#c5c4c9"/>
<circle cx="181.8" cy="108.0" r="1.8" fill="#c5c4c9"/>
<circle cx="184.6" cy="88.8" r="1.8" fill="#c5c4c9"/>
<circle cx="182.3" cy="126.5" r="1.8" fill="#c5c4c9"/>
<circle cx="190.0" cy="85.5" r="1.8" fill="#c5c4c9"/>
<circle cx="199.2" cy="92.2" r="1.8" fill="#c5c4c9"/>
<circle cx="200.8" cy="88.5" r="1.8" fill="#c5c4c9"/>
<circle cx="205.8" cy="89.6" r="1.8" fill="#c5c4c9"/>
<circle cx="206.2" cy="94.2" r="1.8" fill="#c5c4c9"/>
<circle cx="209.2" cy="98.8" r="1.8" fill="#c5c4c9"/>
<circle cx="200.0" cy="119.2" r="1.8" fill="#c5c4c9"/>
<circle cx="211.0" cy="84.0" r="1.8" fill="#c5c4c9"/>
<circle cx="215.7" cy="85.0" r="1.8" fill="#c5c4c9"/>
<circle cx="180.0" cy="82.0" r="1.8" fill="#c5c4c9"/>
<circle cx="177.0" cy="84.0" r="1.8" fill="#c5c4c9"/>
<line x1="64.6" y1="28.6" x2="64.6" y2="134.2" stroke="#000" stroke-width="1.3"/>
<line x1="64" y1="133.5" x2="217" y2="133.5" stroke="#000" stroke-width="1.4"/>
<line x1="61.2" y1="31.8" x2="64.6" y2="31.8" stroke="#000" stroke-width="1.2"/>
<text x="57.4" y="35.0" font-size="9.5" text-anchor="end"  style="">1024</text>
<line x1="61.2" y1="82.7" x2="64.6" y2="82.7" stroke="#000" stroke-width="1.2"/>
<text x="57.4" y="85.9" font-size="9.5" text-anchor="end"  style="">512</text>
<line x1="61.2" y1="133.3" x2="64.6" y2="133.3" stroke="#000" stroke-width="1.2"/>
<text x="57.4" y="136.5" font-size="9.5" text-anchor="end"  style="">256</text>
<g transform="translate(28.8,110.2) rotate(-90)">
<text x="0" y="0" font-size="11" textLength="25.2" lengthAdjust="spacingAndGlyphs">Platelet</text>
<text x="28.40" y="0" font-size="11" textLength="16.77" lengthAdjust="spacingAndGlyphs">(x10</text>
<text x="45.17" y="-3.7" font-size="7.8" textLength="3.26" lengthAdjust="spacingAndGlyphs">3</text>
<text x="48.43" y="0" font-size="11" textLength="12.17" lengthAdjust="spacingAndGlyphs">/µl)</text>
</g>
<circle cx="95.5" cy="94.0" r="2" fill="#fff" stroke="#b0093c" stroke-width="1.5"/>
<circle cx="119.4" cy="113" r="2" fill="#fff" stroke="#6cb443" stroke-width="1.5"/>
<circle cx="140.9" cy="100.7" r="2" fill="#fff" stroke="#e8921a" stroke-width="1.5"/>
<circle cx="164.3" cy="114.5" r="2" fill="#fff" stroke="#244c94" stroke-width="1.5"/>
<circle cx="193.8" cy="98.5" r="2" fill="#fff" stroke="#d8219b" stroke-width="1.5"/>
<circle cx="227.6" cy="53.1" r="2" fill="#fff" stroke="#b0093c" stroke-width="1.5"/>
<text x="233.6" y="56.4" font-size="9.5" text-anchor="start" textLength="20.2" lengthAdjust="spacingAndGlyphs"  style="font-style:italic">Plt42</text>
<circle cx="227.6" cy="67.2" r="2" fill="#fff" stroke="#6cb443" stroke-width="1.5"/>
<text x="233.6" y="70.5" font-size="9.5" text-anchor="start" textLength="20.2" lengthAdjust="spacingAndGlyphs"  style="font-style:italic">Plt43</text>
<circle cx="227.6" cy="81.3" r="2" fill="#fff" stroke="#e8921a" stroke-width="1.5"/>
<text x="233.6" y="84.6" font-size="9.5" text-anchor="start" textLength="20.2" lengthAdjust="spacingAndGlyphs"  style="font-style:italic">Plt54</text>
<circle cx="227.6" cy="95.4" r="2" fill="#fff" stroke="#244c94" stroke-width="1.5"/>
<text x="233.6" y="98.7" font-size="9.5" text-anchor="start" textLength="20.2" lengthAdjust="spacingAndGlyphs"  style="font-style:italic">Plt64</text>
<circle cx="227.6" cy="109.5" r="2" fill="#fff" stroke="#d8219b" stroke-width="1.5"/>
<text x="233.6" y="112.8" font-size="9.5" text-anchor="start" textLength="20.2" lengthAdjust="spacingAndGlyphs"  style="font-style:italic">Plt69</text>
<path d="M87,197.6 L100.5,197.6 L93.75,204.2 Z" fill="#fff" stroke="#000" stroke-width="1"/>
<path d="M174.6,197.9 L187.2,197.9 L180.9,204.3 Z" fill="#fff" stroke="#000" stroke-width="1"/>
<path d="M188.4,197.9 L201.2,197.9 L194.8,204.3 Z" fill="#fff" stroke="#000" stroke-width="1"/>
<text x="83" y="191.6" font-size="9.5" text-anchor="start" textLength="20.7" lengthAdjust="spacingAndGlyphs"  style="">Plt64</text>
<text x="165.6" y="191.8" font-size="9.5" text-anchor="start" textLength="20.6" lengthAdjust="spacingAndGlyphs"  style="">Plt43</text>
<text x="188.7" y="191.8" font-size="9.5" text-anchor="start" textLength="21.1" lengthAdjust="spacingAndGlyphs"  style="">Plt54</text>
<rect x="42.5" y="207.5" width="39.400000000000006" height="22.8" fill="#66a546"/>
<rect x="81.9" y="207.5" width="39.3" height="22.8" fill="#ecbc21"/>
<rect x="121.2" y="207.5" width="39.2" height="22.8" fill="#a7042f"/>
<rect x="160.4" y="207.5" width="39.29999999999998" height="22.8" fill="#2b4e8f"/>
<line x1="81.9" y1="207.5" x2="81.9" y2="230.3" stroke="#000" stroke-width="1.2"/>
<line x1="121.2" y1="207.5" x2="121.2" y2="230.3" stroke="#000" stroke-width="1.2"/>
<line x1="160.4" y1="207.5" x2="160.4" y2="230.3" stroke="#000" stroke-width="1.2"/>
<rect x="42.5" y="207.5" width="157.2" height="22.8" fill="none" stroke="#000" stroke-width="1.3"/>
<text x="52" y="242.1" font-size="9.5" text-anchor="start" textLength="19.9" lengthAdjust="spacingAndGlyphs"  style="">RBD</text>
<text x="92.6" y="242.1" font-size="9.5" text-anchor="start" textLength="17.7" lengthAdjust="spacingAndGlyphs"  style="">LRR</text>
<text x="130.4" y="242.1" font-size="9.5" text-anchor="start" textLength="21.5" lengthAdjust="spacingAndGlyphs"  style="">NTF2</text>
<text x="171.2" y="242.1" font-size="9.5" text-anchor="start" textLength="18.2" lengthAdjust="spacingAndGlyphs"  style="">UBA</text>
<line x1="40.2" y1="248" x2="119.3" y2="248" stroke="#444" stroke-width="1.2"/>
<line x1="123.1" y1="248" x2="201.9" y2="248" stroke="#444" stroke-width="1.2"/>
<text x="51.4" y="260.3" font-size="9.5" text-anchor="start" textLength="54.6" lengthAdjust="spacingAndGlyphs"  style="">cargo-binding</text>
<text x="65.8" y="270.7" font-size="9.5" text-anchor="start" textLength="28.4" lengthAdjust="spacingAndGlyphs"  style="">domain</text>
<text x="136.7" y="260.3" font-size="9.5" text-anchor="start" textLength="52" lengthAdjust="spacingAndGlyphs"  style="">NPC-binding</text>
<text x="150.2" y="270.7" font-size="9.5" text-anchor="start" textLength="27.9" lengthAdjust="spacingAndGlyphs"  style="">domain</text>
<rect x="68.4" y="335.2" width="15.799999999999997" height="44.60000000000002" fill="#8993c0"/>
<rect x="99.4" y="350.6" width="15.799999999999997" height="29.19999999999999" fill="#d4867a"/>
<line x1="64.6" y1="312.9" x2="64.6" y2="380.40000000000003" stroke="#000" stroke-width="1.3"/>
<line x1="63.99999999999999" y1="379.8" x2="125.8" y2="379.8" stroke="#000" stroke-width="1.5"/>
<line x1="61.199999999999996" y1="315.9" x2="64.6" y2="315.9" stroke="#000" stroke-width="1.2"/>
<text x="57.39999999999999" y="319.09999999999997" font-size="9.5" text-anchor="end"  style="">1500</text>
<line x1="61.199999999999996" y1="337.2" x2="64.6" y2="337.2" stroke="#000" stroke-width="1.2"/>
<text x="57.39999999999999" y="340.4" font-size="9.5" text-anchor="end"  style="">1000</text>
<line x1="61.199999999999996" y1="358.4" x2="64.6" y2="358.4" stroke="#000" stroke-width="1.2"/>
<text x="57.39999999999999" y="361.59999999999997" font-size="9.5" text-anchor="end"  style="">500</text>
<line x1="61.199999999999996" y1="379.8" x2="64.6" y2="379.8" stroke="#000" stroke-width="1.2"/>
<text x="57.39999999999999" y="383.0" font-size="9.5" text-anchor="end"  style="">0</text>
<line x1="76.5" y1="379.8" x2="76.5" y2="383.2" stroke="#000" stroke-width="1.2"/>
<circle cx="69.9" cy="326.2" r="1.75" fill="#20478f"/>
<circle cx="72" cy="326.6" r="1.75" fill="#20478f"/>
<circle cx="81" cy="326.6" r="1.75" fill="#20478f"/>
<circle cx="83" cy="326.2" r="1.75" fill="#20478f"/>
<circle cx="70.6" cy="328.6" r="1.75" fill="#20478f"/>
<circle cx="73.9" cy="328.1" r="1.75" fill="#20478f"/>
<circle cx="76.5" cy="328.2" r="1.75" fill="#20478f"/>
<circle cx="79.4" cy="328.6" r="1.75" fill="#20478f"/>
<circle cx="81.8" cy="327.8" r="1.75" fill="#20478f"/>
<circle cx="72.5" cy="329.4" r="1.75" fill="#20478f"/>
<circle cx="75.3" cy="329.1" r="1.75" fill="#20478f"/>
<circle cx="77.9" cy="329.7" r="1.75" fill="#20478f"/>
<circle cx="80.5" cy="329.9" r="1.75" fill="#20478f"/>
<circle cx="70.9" cy="330.3" r="1.75" fill="#20478f"/>
<circle cx="73.2" cy="330.8" r="1.75" fill="#20478f"/>
<circle cx="76.8" cy="330.7" r="1.75" fill="#20478f"/>
<circle cx="79.3" cy="330.7" r="1.75" fill="#20478f"/>
<circle cx="82.1" cy="330.5" r="1.75" fill="#20478f"/>
<circle cx="72.0" cy="332.0" r="1.75" fill="#20478f"/>
<circle cx="74.8" cy="331.8" r="1.75" fill="#20478f"/>
<circle cx="77.8" cy="332.0" r="1.75" fill="#20478f"/>
<circle cx="80.8" cy="331.6" r="1.75" fill="#20478f"/>
<circle cx="70.8" cy="333.4" r="1.75" fill="#20478f"/>
<circle cx="73.6" cy="333.0" r="1.75" fill="#20478f"/>
<circle cx="76.8" cy="333.7" r="1.75" fill="#20478f"/>
<circle cx="79.2" cy="333.1" r="1.75" fill="#20478f"/>
<circle cx="82.6" cy="333.5" r="1.75" fill="#20478f"/>
<circle cx="72.4" cy="334.4" r="1.75" fill="#20478f"/>
<circle cx="75.3" cy="334.6" r="1.75" fill="#20478f"/>
<circle cx="77.8" cy="334.6" r="1.75" fill="#20478f"/>
<circle cx="81.2" cy="334.8" r="1.75" fill="#20478f"/>
<circle cx="70.6" cy="335.9" r="1.75" fill="#20478f"/>
<circle cx="73.2" cy="335.5" r="1.75" fill="#20478f"/>
<circle cx="76.7" cy="335.7" r="1.75" fill="#20478f"/>
<circle cx="79.2" cy="335.8" r="1.75" fill="#20478f"/>
<circle cx="82.5" cy="336.0" r="1.75" fill="#20478f"/>
<circle cx="72.0" cy="337.0" r="1.75" fill="#20478f"/>
<circle cx="75.0" cy="337.2" r="1.75" fill="#20478f"/>
<circle cx="78.0" cy="336.9" r="1.75" fill="#20478f"/>
<circle cx="80.9" cy="336.6" r="1.75" fill="#20478f"/>
<circle cx="70.3" cy="338.5" r="1.75" fill="#20478f"/>
<circle cx="73.9" cy="338.4" r="1.75" fill="#20478f"/>
<circle cx="76.4" cy="338.0" r="1.75" fill="#20478f"/>
<circle cx="79.5" cy="338.8" r="1.75" fill="#20478f"/>
<circle cx="82.6" cy="338.3" r="1.75" fill="#20478f"/>
<circle cx="72.3" cy="339.3" r="1.75" fill="#20478f"/>
<circle cx="75.0" cy="339.9" r="1.75" fill="#20478f"/>
<circle cx="78.0" cy="339.5" r="1.75" fill="#20478f"/>
<circle cx="80.8" cy="339.5" r="1.75" fill="#20478f"/>
<circle cx="71.2" cy="340.3" r="1.75" fill="#20478f"/>
<circle cx="73.9" cy="341.1" r="1.75" fill="#20478f"/>
<circle cx="76.8" cy="341.0" r="1.75" fill="#20478f"/>
<circle cx="79.5" cy="340.8" r="1.75" fill="#20478f"/>
<circle cx="82.1" cy="340.7" r="1.75" fill="#20478f"/>
<circle cx="72.0" cy="342.3" r="1.75" fill="#20478f"/>
<circle cx="75.1" cy="341.8" r="1.75" fill="#20478f"/>
<circle cx="77.9" cy="342.0" r="1.75" fill="#20478f"/>
<circle cx="80.6" cy="341.9" r="1.75" fill="#20478f"/>
<circle cx="72.3" cy="343.3" r="1.75" fill="#20478f"/>
<circle cx="75.2" cy="343.2" r="1.75" fill="#20478f"/>
<circle cx="77.6" cy="342.9" r="1.75" fill="#20478f"/>
<circle cx="80.5" cy="343.3" r="1.75" fill="#20478f"/>
<circle cx="74.0" cy="344.6" r="1.75" fill="#20478f"/>
<circle cx="76.7" cy="344.7" r="1.75" fill="#20478f"/>
<circle cx="79.1" cy="344.7" r="1.75" fill="#20478f"/>
<circle cx="74.4" cy="345.0" r="1.75" fill="#20478f"/>
<circle cx="78.4" cy="344.9" r="1.75" fill="#20478f"/>
<circle cx="76.7" cy="346.4" r="1.75" fill="#20478f"/>
<circle cx="76.2" cy="347" r="1.75" fill="#20478f"/>
<line x1="76.5" y1="328.9" x2="76.5" y2="339" stroke="#000" stroke-width="1.3"/>
<line x1="72.7" y1="328.9" x2="80.3" y2="328.9" stroke="#000" stroke-width="1.3"/>
<line x1="72.7" y1="339" x2="80.3" y2="339" stroke="#000" stroke-width="1.3"/>
<line x1="107.5" y1="379.8" x2="107.5" y2="383.2" stroke="#000" stroke-width="1.2"/>
<path d="M102.3,341.9 L104.3,345.5 L100.3,345.5 Z" fill="#b80a30"/>
<path d="M107.5,343.4 L109.5,347.0 L105.5,347.0 Z" fill="#b80a30"/>
<path d="M114.3,343.09999999999997 L116.3,346.7 L112.3,346.7 Z" fill="#b80a30"/>
<path d="M102.5,347.09999999999997 L104.5,350.7 L100.5,350.7 Z" fill="#b80a30"/>
<path d="M104.5,346.29999999999995 L106.5,349.9 L102.5,349.9 Z" fill="#b80a30"/>
<path d="M107.7,346.9 L109.7,350.5 L105.7,350.5 Z" fill="#b80a30"/>
<path d="M110.3,346.5 L112.3,350.1 L108.3,350.1 Z" fill="#b80a30"/>
<path d="M112.9,346.79999999999995 L114.9,350.4 L110.9,350.4 Z" fill="#b80a30"/>
<path d="M103.6,347.59999999999997 L105.6,351.2 L101.6,351.2 Z" fill="#b80a30"/>
<path d="M106.1,347.79999999999995 L108.1,351.4 L104.1,351.4 Z" fill="#b80a30"/>
<path d="M109.0,348.29999999999995 L111.0,351.9 L107.0,351.9 Z" fill="#b80a30"/>
<path d="M111.8,347.9 L113.8,351.5 L109.8,351.5 Z" fill="#b80a30"/>
<path d="M101.9,348.9 L103.9,352.5 L99.9,352.5 Z" fill="#b80a30"/>
<path d="M104.4,348.59999999999997 L106.4,352.2 L102.4,352.2 Z" fill="#b80a30"/>
<path d="M107.5,348.9 L109.5,352.5 L105.5,352.5 Z" fill="#b80a30"/>
<path d="M110.2,349.5 L112.2,353.1 L108.2,353.1 Z" fill="#b80a30"/>
<path d="M113.1,349.2 L115.1,352.8 L111.1,352.8 Z" fill="#b80a30"/>
<path d="M103.1,349.9 L105.1,353.5 L101.1,353.5 Z" fill="#b80a30"/>
<path d="M106.0,350.0 L108.0,353.6 L104.0,353.6 Z" fill="#b80a30"/>
<path d="M108.9,350.7 L110.9,354.3 L106.9,354.3 Z" fill="#b80a30"/>
<path d="M111.8,350.0 L113.8,353.6 L109.8,353.6 Z" fill="#b80a30"/>
<path d="M102.6,351.79999999999995 L104.6,355.4 L100.6,355.4 Z" fill="#b80a30"/>
<path d="M105.1,351.9 L107.1,355.5 L103.1,355.5 Z" fill="#b80a30"/>
<path d="M107.7,351.79999999999995 L109.7,355.4 L105.7,355.4 Z" fill="#b80a30"/>
<path d="M110.0,352.0 L112.0,355.6 L108.0,355.6 Z" fill="#b80a30"/>
<path d="M113.0,351.2 L115.0,354.8 L111.0,354.8 Z" fill="#b80a30"/>
<path d="M103.8,352.9 L105.8,356.5 L101.8,356.5 Z" fill="#b80a30"/>
<path d="M106.2,352.7 L108.2,356.3 L104.2,356.3 Z" fill="#b80a30"/>
<path d="M108.8,353.0 L110.8,356.6 L106.8,356.6 Z" fill="#b80a30"/>
<path d="M111.4,353.0 L113.4,356.6 L109.4,356.6 Z" fill="#b80a30"/>
<path d="M104.4,354.09999999999997 L106.4,357.7 L102.4,357.7 Z" fill="#b80a30"/>
<path d="M107.8,353.7 L109.8,357.3 L105.8,357.3 Z" fill="#b80a30"/>
<path d="M110.5,354.09999999999997 L112.5,357.7 L108.5,357.7 Z" fill="#b80a30"/>
<path d="M106.2,354.9 L108.2,358.5 L104.2,358.5 Z" fill="#b80a30"/>
<path d="M108.8,354.79999999999995 L110.8,358.4 L106.8,358.4 Z" fill="#b80a30"/>
<path d="M107.6,355.4 L109.6,359.0 L105.6,359.0 Z" fill="#b80a30"/>
<line x1="107.5" y1="347.6" x2="107.5" y2="353.9" stroke="#000" stroke-width="1.3"/>
<line x1="103.7" y1="347.6" x2="111.3" y2="347.6" stroke="#000" stroke-width="1.3"/>
<line x1="103.7" y1="353.9" x2="111.3" y2="353.9" stroke="#000" stroke-width="1.3"/>
<line x1="77.2" y1="317.9" x2="108.8" y2="317.9" stroke="#3a3a3a" stroke-width="1.4"/>
<circle cx="87.83" cy="313.30" r="1.2" fill="#111"/>
<circle cx="91.28" cy="313.30" r="1.2" fill="#111"/>
<circle cx="94.72" cy="313.30" r="1.2" fill="#111"/>
<circle cx="98.17" cy="313.30" r="1.2" fill="#111"/>
<text x="69.1" y="394.8" font-size="9.5" text-anchor="start" textLength="14.9" lengthAdjust="spacingAndGlyphs"  style="">+/+</text>
<text x="88.1" y="394.8" font-size="9.5" text-anchor="start" textLength="39" lengthAdjust="spacingAndGlyphs"  style="font-style:italic">C587R/+</text>
<g transform="translate(28.6,374.2) rotate(-90)">
<text x="0" y="0" font-size="11" textLength="24.6" lengthAdjust="spacingAndGlyphs">Platelet</text>
<text x="27.80" y="0" font-size="11" textLength="16.25" lengthAdjust="spacingAndGlyphs">(x10</text>
<text x="44.05" y="-3.7" font-size="7.8" textLength="3.16" lengthAdjust="spacingAndGlyphs">3</text>
<text x="47.21" y="0" font-size="11" textLength="11.79" lengthAdjust="spacingAndGlyphs">/µl)</text>
</g>
<rect x="188.8" y="342" width="16.399999999999977" height="37.60000000000002" fill="#8993c0"/>
<rect x="219.4" y="356.7" width="16.5" height="22.900000000000034" fill="#d4867a"/>
<line x1="185.2" y1="312.9" x2="185.2" y2="380.20000000000005" stroke="#000" stroke-width="1.3"/>
<line x1="184.6" y1="379.6" x2="245" y2="379.6" stroke="#000" stroke-width="1.5"/>
<line x1="181.79999999999998" y1="316.1" x2="185.2" y2="316.1" stroke="#000" stroke-width="1.2"/>
<text x="178.0" y="319.3" font-size="9.5" text-anchor="end"  style="">15</text>
<line x1="181.79999999999998" y1="337.4" x2="185.2" y2="337.4" stroke="#000" stroke-width="1.2"/>
<text x="178.0" y="340.59999999999997" font-size="9.5" text-anchor="end"  style="">10</text>
<line x1="181.79999999999998" y1="358.5" x2="185.2" y2="358.5" stroke="#000" stroke-width="1.2"/>
<text x="178.0" y="361.7" font-size="9.5" text-anchor="end"  style="">5</text>
<line x1="181.79999999999998" y1="379.6" x2="185.2" y2="379.6" stroke="#000" stroke-width="1.2"/>
<text x="178.0" y="382.8" font-size="9.5" text-anchor="end"  style="">0</text>
<line x1="196.9" y1="379.6" x2="196.9" y2="383.0" stroke="#000" stroke-width="1.2"/>
<circle cx="196.9" cy="329.5" r="1.75" fill="#20478f"/>
<circle cx="196.9" cy="355.2" r="1.75" fill="#20478f"/>
<circle cx="193.2" cy="334.3" r="1.75" fill="#20478f"/>
<circle cx="196.8" cy="334.4" r="1.75" fill="#20478f"/>
<circle cx="200.5" cy="333.9" r="1.75" fill="#20478f"/>
<circle cx="191.2" cy="336.9" r="1.75" fill="#20478f"/>
<circle cx="194.9" cy="336.3" r="1.75" fill="#20478f"/>
<circle cx="199.0" cy="336.6" r="1.75" fill="#20478f"/>
<circle cx="202.5" cy="336.6" r="1.75" fill="#20478f"/>
<circle cx="191.4" cy="338.7" r="1.75" fill="#20478f"/>
<circle cx="195.1" cy="339.4" r="1.75" fill="#20478f"/>
<circle cx="198.8" cy="339.2" r="1.75" fill="#20478f"/>
<circle cx="202.6" cy="338.6" r="1.75" fill="#20478f"/>
<circle cx="191.5" cy="341.5" r="1.75" fill="#20478f"/>
<circle cx="194.9" cy="340.9" r="1.75" fill="#20478f"/>
<circle cx="199.0" cy="341.4" r="1.75" fill="#20478f"/>
<circle cx="202.7" cy="341.8" r="1.75" fill="#20478f"/>
<circle cx="191.4" cy="344.2" r="1.75" fill="#20478f"/>
<circle cx="195.0" cy="344.1" r="1.75" fill="#20478f"/>
<circle cx="198.7" cy="344.2" r="1.75" fill="#20478f"/>
<circle cx="202.8" cy="343.4" r="1.75" fill="#20478f"/>
<circle cx="191.2" cy="345.9" r="1.75" fill="#20478f"/>
<circle cx="195.4" cy="346.1" r="1.75" fill="#20478f"/>
<circle cx="198.8" cy="346.0" r="1.75" fill="#20478f"/>
<circle cx="202.3" cy="346.1" r="1.75" fill="#20478f"/>
<circle cx="192.2" cy="348.7" r="1.75" fill="#20478f"/>
<circle cx="195.4" cy="349.0" r="1.75" fill="#20478f"/>
<circle cx="198.6" cy="349.0" r="1.75" fill="#20478f"/>
<circle cx="201.7" cy="349.1" r="1.75" fill="#20478f"/>
<circle cx="194.2" cy="350.3" r="1.75" fill="#20478f"/>
<circle cx="200.0" cy="351.1" r="1.75" fill="#20478f"/>
<line x1="196.9" y1="337.7" x2="196.9" y2="348.4" stroke="#000" stroke-width="1.3"/>
<line x1="193.1" y1="337.7" x2="200.70000000000002" y2="337.7" stroke="#000" stroke-width="1.3"/>
<line x1="193.1" y1="348.4" x2="200.70000000000002" y2="348.4" stroke="#000" stroke-width="1.3"/>
<line x1="227.3" y1="379.6" x2="227.3" y2="383.0" stroke="#000" stroke-width="1.2"/>
<path d="M226.9,363.09999999999997 L228.9,366.7 L224.9,366.7 Z" fill="#b80a30"/>
<path d="M223.6,350.29999999999995 L225.6,353.9 L221.6,353.9 Z" fill="#b80a30"/>
<path d="M227.2,350.4 L229.2,354.0 L225.2,354.0 Z" fill="#b80a30"/>
<path d="M230.5,350.59999999999997 L232.5,354.2 L228.5,354.2 Z" fill="#b80a30"/>
<path d="M222.8,353.2 L224.8,356.8 L220.8,356.8 Z" fill="#b80a30"/>
<path d="M225.9,352.59999999999997 L227.9,356.2 L223.9,356.2 Z" fill="#b80a30"/>
<path d="M228.9,352.7 L230.9,356.3 L226.9,356.3 Z" fill="#b80a30"/>
<path d="M231.9,352.5 L233.9,356.1 L229.9,356.1 Z" fill="#b80a30"/>
<path d="M222.3,355.59999999999997 L224.3,359.2 L220.3,359.2 Z" fill="#b80a30"/>
<path d="M225.9,355.5 L227.9,359.1 L223.9,359.1 Z" fill="#b80a30"/>
<path d="M229.1,354.9 L231.1,358.5 L227.1,358.5 Z" fill="#b80a30"/>
<path d="M232.0,355.29999999999995 L234.0,358.9 L230.0,358.9 Z" fill="#b80a30"/>
<path d="M222.9,357.9 L224.9,361.5 L220.9,361.5 Z" fill="#b80a30"/>
<path d="M226.0,357.09999999999997 L228.0,360.7 L224.0,360.7 Z" fill="#b80a30"/>
<path d="M228.9,357.7 L230.9,361.3 L226.9,361.3 Z" fill="#b80a30"/>
<path d="M231.9,357.2 L233.9,360.8 L229.9,360.8 Z" fill="#b80a30"/>
<path d="M224.3,359.09999999999997 L226.3,362.7 L222.3,362.7 Z" fill="#b80a30"/>
<path d="M227.6,359.9 L229.6,363.5 L225.6,363.5 Z" fill="#b80a30"/>
<path d="M230.3,359.29999999999995 L232.3,362.9 L228.3,362.9 Z" fill="#b80a30"/>
<line x1="227.3" y1="354.3" x2="227.3" y2="361.3" stroke="#000" stroke-width="1.3"/>
<line x1="223.5" y1="354.3" x2="231.10000000000002" y2="354.3" stroke="#000" stroke-width="1.3"/>
<line x1="223.5" y1="361.3" x2="231.10000000000002" y2="361.3" stroke="#000" stroke-width="1.3"/>
<line x1="197.7" y1="318" x2="228.8" y2="318" stroke="#3a3a3a" stroke-width="1.4"/>
<circle cx="208.07" cy="313.40" r="1.2" fill="#111"/>
<circle cx="211.53" cy="313.40" r="1.2" fill="#111"/>
<circle cx="214.97" cy="313.40" r="1.2" fill="#111"/>
<circle cx="218.43" cy="313.40" r="1.2" fill="#111"/>
<text x="189.9" y="394.6" font-size="9.5" text-anchor="start" textLength="14.7" lengthAdjust="spacingAndGlyphs"  style="">+/+</text>
<text x="209.1" y="394.6" font-size="9.5" text-anchor="start" textLength="37.9" lengthAdjust="spacingAndGlyphs"  style="font-style:italic">C587R/+</text>
<g transform="translate(159.8,384.6) rotate(-90)">
<text x="0" y="0" font-size="11" textLength="40.3" lengthAdjust="spacingAndGlyphs">Lymphocyte</text>
<text x="43.50" y="0" font-size="11" textLength="16.77" lengthAdjust="spacingAndGlyphs">(x10</text>
<text x="60.27" y="-3.7" font-size="7.8" textLength="3.26" lengthAdjust="spacingAndGlyphs">3</text>
<text x="63.53" y="0" font-size="11" textLength="12.17" lengthAdjust="spacingAndGlyphs">/µl)</text>
</g>
<rect x="330.1" y="201.4" width="15.799999999999955" height="52.099999999999994" fill="#8993c0"/>
<rect x="361.1" y="215.2" width="15.699999999999989" height="38.30000000000001" fill="#d4867a"/>
<line x1="326.3" y1="190.6" x2="326.3" y2="254.1" stroke="#000" stroke-width="1.3"/>
<line x1="325.7" y1="253.5" x2="382.5" y2="253.5" stroke="#000" stroke-width="1.5"/>
<line x1="322.90000000000003" y1="200.9" x2="326.3" y2="200.9" stroke="#000" stroke-width="1.2"/>
<text x="319.1" y="204.1" font-size="9.5" text-anchor="end"  style="">1000</text>
<line x1="322.90000000000003" y1="214" x2="326.3" y2="214" stroke="#000" stroke-width="1.2"/>
<text x="319.1" y="217.2" font-size="9.5" text-anchor="end"  style="">750</text>
<line x1="322.90000000000003" y1="227.1" x2="326.3" y2="227.1" stroke="#000" stroke-width="1.2"/>
<text x="319.1" y="230.29999999999998" font-size="9.5" text-anchor="end"  style="">500</text>
<line x1="322.90000000000003" y1="240.2" x2="326.3" y2="240.2" stroke="#000" stroke-width="1.2"/>
<text x="319.1" y="243.39999999999998" font-size="9.5" text-anchor="end"  style="">250</text>
<line x1="322.90000000000003" y1="253.5" x2="326.3" y2="253.5" stroke="#000" stroke-width="1.2"/>
<text x="319.1" y="256.7" font-size="9.5" text-anchor="end"  style="">0</text>
<line x1="338.1" y1="253.5" x2="338.1" y2="256.9" stroke="#000" stroke-width="1.2"/>
<circle cx="332.5" cy="201.2" r="1.75" fill="#20478f"/>
<circle cx="338.1" cy="197.3" r="1.75" fill="#20478f"/>
<circle cx="343.1" cy="202.4" r="1.75" fill="#20478f"/>
<circle cx="338.1" cy="203.5" r="1.75" fill="#20478f"/>
<line x1="338.1" y1="198.8" x2="338.1" y2="203.5" stroke="#000" stroke-width="1.3"/>
<line x1="334.3" y1="198.8" x2="341.90000000000003" y2="198.8" stroke="#000" stroke-width="1.3"/>
<line x1="334.3" y1="203.5" x2="341.90000000000003" y2="203.5" stroke="#000" stroke-width="1.3"/>
<line x1="368.75" y1="253.5" x2="368.75" y2="256.9" stroke="#000" stroke-width="1.2"/>
<path d="M368.75,207.8 L370.75,211.4 L366.75,211.4 Z" fill="#b80a30"/>
<path d="M371.25,214.9 L373.25,218.5 L369.25,218.5 Z" fill="#b80a30"/>
<path d="M366.5,218.3 L368.5,221.9 L364.5,221.9 Z" fill="#b80a30"/>
<line x1="368.75" y1="210.6" x2="368.75" y2="219.8" stroke="#000" stroke-width="1.3"/>
<line x1="364.95" y1="210.6" x2="372.55" y2="210.6" stroke="#000" stroke-width="1.3"/>
<line x1="364.95" y1="219.8" x2="372.55" y2="219.8" stroke="#000" stroke-width="1.3"/>
<line x1="340" y1="191" x2="370.5" y2="191" stroke="#3a3a3a" stroke-width="1.4"/>
<circle cx="353.52" cy="186.40" r="1.2" fill="#111"/>
<circle cx="356.98" cy="186.40" r="1.2" fill="#111"/>
<text x="302" y="268.5" font-size="9.5" text-anchor="start" textLength="24.3" lengthAdjust="spacingAndGlyphs"  style="">Donor</text>
<text x="330.8" y="268.5" font-size="9.5" text-anchor="start" textLength="14.3" lengthAdjust="spacingAndGlyphs"  style="">+/+</text>
<text x="350" y="268.5" font-size="9.5" text-anchor="start" textLength="38.7" lengthAdjust="spacingAndGlyphs"  style="font-style:italic">C587R/+</text>
<g transform="translate(291,250.4) rotate(-90)">
<text x="0" y="0" font-size="11" textLength="24" lengthAdjust="spacingAndGlyphs">Platelet</text>
<text x="27.20" y="0" font-size="11" textLength="17.19" lengthAdjust="spacingAndGlyphs">(x10</text>
<text x="44.39" y="-3.7" font-size="7.8" textLength="3.34" lengthAdjust="spacingAndGlyphs">3</text>
<text x="47.73" y="0" font-size="11" textLength="12.47" lengthAdjust="spacingAndGlyphs">/µl)</text>
</g>
<rect x="452.2" y="202.2" width="15.600000000000023" height="51.60000000000002" fill="#8993c0"/>
<rect x="482.8" y="221.8" width="15.899999999999977" height="32.0" fill="#d4867a"/>
<line x1="447.6" y1="187.5" x2="447.6" y2="254.4" stroke="#000" stroke-width="1.3"/>
<line x1="447.0" y1="253.8" x2="505" y2="253.8" stroke="#000" stroke-width="1.5"/>
<line x1="444.20000000000005" y1="190.5" x2="447.6" y2="190.5" stroke="#000" stroke-width="1.2"/>
<text x="440.40000000000003" y="193.7" font-size="9.5" text-anchor="end"  style="">8</text>
<line x1="444.20000000000005" y1="206.3" x2="447.6" y2="206.3" stroke="#000" stroke-width="1.2"/>
<text x="440.40000000000003" y="209.5" font-size="9.5" text-anchor="end"  style="">6</text>
<line x1="444.20000000000005" y1="222.2" x2="447.6" y2="222.2" stroke="#000" stroke-width="1.2"/>
<text x="440.40000000000003" y="225.39999999999998" font-size="9.5" text-anchor="end"  style="">4</text>
<line x1="444.20000000000005" y1="238" x2="447.6" y2="238" stroke="#000" stroke-width="1.2"/>
<text x="440.40000000000003" y="241.2" font-size="9.5" text-anchor="end"  style="">2</text>
<line x1="444.20000000000005" y1="253.8" x2="447.6" y2="253.8" stroke="#000" stroke-width="1.2"/>
<text x="440.40000000000003" y="257.0" font-size="9.5" text-anchor="end"  style="">0</text>
<line x1="459.8" y1="253.8" x2="459.8" y2="257.2" stroke="#000" stroke-width="1.2"/>
<circle cx="454.9" cy="200.8" r="1.75" fill="#20478f"/>
<circle cx="459.8" cy="201" r="1.75" fill="#20478f"/>
<circle cx="464.5" cy="199.6" r="1.75" fill="#20478f"/>
<circle cx="459.8" cy="208.2" r="1.75" fill="#20478f"/>
<line x1="459.8" y1="198.2" x2="459.8" y2="206.2" stroke="#000" stroke-width="1.3"/>
<line x1="456.0" y1="198.2" x2="463.6" y2="198.2" stroke="#000" stroke-width="1.3"/>
<line x1="456.0" y1="206.2" x2="463.6" y2="206.2" stroke="#000" stroke-width="1.3"/>
<line x1="490.6" y1="253.8" x2="490.6" y2="257.2" stroke="#000" stroke-width="1.2"/>
<path d="M490.4,210.5 L492.4,214.1 L488.4,214.1 Z" fill="#b80a30"/>
<path d="M492.5,221.9 L494.5,225.5 L490.5,225.5 Z" fill="#b80a30"/>
<path d="M488.2,226.5 L490.2,230.1 L486.2,230.1 Z" fill="#b80a30"/>
<line x1="490.6" y1="214.9" x2="490.6" y2="228.5" stroke="#000" stroke-width="1.3"/>
<line x1="486.8" y1="214.9" x2="494.40000000000003" y2="214.9" stroke="#000" stroke-width="1.3"/>
<line x1="486.8" y1="228.5" x2="494.40000000000003" y2="228.5" stroke="#000" stroke-width="1.3"/>
<line x1="459.5" y1="190.7" x2="490.8" y2="190.7" stroke="#3a3a3a" stroke-width="1.4"/>
<circle cx="473.42" cy="186.10" r="1.2" fill="#111"/>
<circle cx="476.88" cy="186.10" r="1.2" fill="#111"/>
<text x="423.5" y="268.8" font-size="9.5" text-anchor="start" textLength="24.3" lengthAdjust="spacingAndGlyphs"  style="">Donor</text>
<text x="451.9" y="268.8" font-size="9.5" text-anchor="start" textLength="14.3" lengthAdjust="spacingAndGlyphs"  style="">+/+</text>
<text x="472" y="268.8" font-size="9.5" text-anchor="start" textLength="38.6" lengthAdjust="spacingAndGlyphs"  style="font-style:italic">C587R/+</text>
<g transform="translate(428,258.4) rotate(-90)">
<text x="0" y="0" font-size="11" textLength="40.3" lengthAdjust="spacingAndGlyphs">Lymphocyte</text>
<text x="43.50" y="0" font-size="11" textLength="16.51" lengthAdjust="spacingAndGlyphs">(x10</text>
<text x="60.01" y="-3.7" font-size="7.8" textLength="3.21" lengthAdjust="spacingAndGlyphs">3</text>
<text x="63.22" y="0" font-size="11" textLength="11.98" lengthAdjust="spacingAndGlyphs">/µl)</text>
</g>
<rect x="331.8" y="326.7" width="15.199999999999989" height="53.0" fill="#8993c0"/>
<rect x="362.6" y="331.6" width="15.199999999999989" height="48.099999999999966" fill="#d4867a"/>
<line x1="327.3" y1="315.9" x2="327.3" y2="380.3" stroke="#000" stroke-width="1.3"/>
<line x1="326.7" y1="379.7" x2="386.3" y2="379.7" stroke="#000" stroke-width="1.5"/>
<line x1="323.90000000000003" y1="326.9" x2="327.3" y2="326.9" stroke="#000" stroke-width="1.2"/>
<text x="320.1" y="330.09999999999997" font-size="9.5" text-anchor="end"  style="">1000</text>
<line x1="323.90000000000003" y1="340.2" x2="327.3" y2="340.2" stroke="#000" stroke-width="1.2"/>
<text x="320.1" y="343.4" font-size="9.5" text-anchor="end"  style="">750</text>
<line x1="323.90000000000003" y1="353.3" x2="327.3" y2="353.3" stroke="#000" stroke-width="1.2"/>
<text x="320.1" y="356.5" font-size="9.5" text-anchor="end"  style="">500</text>
<line x1="323.90000000000003" y1="366.4" x2="327.3" y2="366.4" stroke="#000" stroke-width="1.2"/>
<text x="320.1" y="369.59999999999997" font-size="9.5" text-anchor="end"  style="">250</text>
<line x1="323.90000000000003" y1="379.7" x2="327.3" y2="379.7" stroke="#000" stroke-width="1.2"/>
<text x="320.1" y="382.9" font-size="9.5" text-anchor="end"  style="">0</text>
<line x1="339.4" y1="379.7" x2="339.4" y2="383.09999999999997" stroke="#000" stroke-width="1.2"/>
<circle cx="334.3" cy="322.7" r="1.75" fill="#20478f"/>
<circle cx="344.3" cy="322.3" r="1.75" fill="#20478f"/>
<circle cx="333.2" cy="328.3" r="1.75" fill="#20478f"/>
<circle cx="345.4" cy="327.2" r="1.75" fill="#20478f"/>
<circle cx="337.2" cy="331.6" r="1.75" fill="#20478f"/>
<circle cx="341.3" cy="331.2" r="1.75" fill="#20478f"/>
<circle cx="339.4" cy="322.9" r="1.75" fill="#20478f"/>
<line x1="339.4" y1="322.9" x2="339.4" y2="330.5" stroke="#000" stroke-width="1.3"/>
<line x1="335.59999999999997" y1="322.9" x2="343.2" y2="322.9" stroke="#000" stroke-width="1.3"/>
<line x1="335.59999999999997" y1="330.5" x2="343.2" y2="330.5" stroke="#000" stroke-width="1.3"/>
<line x1="370.4" y1="379.7" x2="370.4" y2="383.09999999999997" stroke="#000" stroke-width="1.2"/>
<path d="M370.4,314.9 L372.4,318.5 L368.4,318.5 Z" fill="#b80a30"/>
<path d="M365.5,325.79999999999995 L367.5,329.4 L363.5,329.4 Z" fill="#b80a30"/>
<path d="M370.4,325.29999999999995 L372.4,328.9 L368.4,328.9 Z" fill="#b80a30"/>
<path d="M375.3,326.5 L377.3,330.1 L373.3,330.1 Z" fill="#b80a30"/>
<path d="M368,331.7 L370,335.3 L366,335.3 Z" fill="#b80a30"/>
<path d="M372.6,335.5 L374.6,339.1 L370.6,339.1 Z" fill="#b80a30"/>
<path d="M370.4,348.9 L372.4,352.5 L368.4,352.5 Z" fill="#b80a30"/>
<line x1="370.4" y1="321.6" x2="370.4" y2="341.3" stroke="#000" stroke-width="1.3"/>
<line x1="366.59999999999997" y1="321.6" x2="374.2" y2="321.6" stroke="#000" stroke-width="1.3"/>
<line x1="366.59999999999997" y1="341.3" x2="374.2" y2="341.3" stroke="#000" stroke-width="1.3"/>
<line x1="339.4" y1="313.4" x2="370.4" y2="313.4" stroke="#3a3a3a" stroke-width="1.4"/>
<text x="354.9" y="311.09999999999997" font-size="9.5" text-anchor="middle" textLength="11.5" lengthAdjust="spacingAndGlyphs"  style="">NS</text>
<text x="290.7" y="394.7" font-size="9.5" text-anchor="start" textLength="37.4" lengthAdjust="spacingAndGlyphs"  style="">Recipient</text>
<text x="330.4" y="394.7" font-size="9.5" text-anchor="start" textLength="16" lengthAdjust="spacingAndGlyphs"  style="">+/+</text>
<text x="350.8" y="394.7" font-size="9.5" text-anchor="start" textLength="38.4" lengthAdjust="spacingAndGlyphs"  style="font-style:italic">C587R/+</text>
<g transform="translate(291.5,376.7) rotate(-90)">
<text x="0" y="0" font-size="11" textLength="24" lengthAdjust="spacingAndGlyphs">Platelet</text>
<text x="27.20" y="0" font-size="11" textLength="16.77" lengthAdjust="spacingAndGlyphs">(x10</text>
<text x="43.97" y="-3.7" font-size="7.8" textLength="3.26" lengthAdjust="spacingAndGlyphs">3</text>
<text x="47.23" y="0" font-size="11" textLength="12.17" lengthAdjust="spacingAndGlyphs">/µl)</text>
</g>
<rect x="453.1" y="348.8" width="15.799999999999955" height="31.5" fill="#8993c0"/>
<rect x="484.2" y="349.9" width="15.800000000000011" height="30.400000000000034" fill="#d4867a"/>
<line x1="449.2" y1="313.1" x2="449.2" y2="380.90000000000003" stroke="#000" stroke-width="1.3"/>
<line x1="448.59999999999997" y1="380.3" x2="507" y2="380.3" stroke="#000" stroke-width="1.5"/>
<line x1="445.8" y1="316.3" x2="449.2" y2="316.3" stroke="#000" stroke-width="1.2"/>
<text x="442.0" y="319.5" font-size="9.5" text-anchor="end"  style="">10</text>
<line x1="445.8" y1="329.1" x2="449.2" y2="329.1" stroke="#000" stroke-width="1.2"/>
<text x="442.0" y="332.3" font-size="9.5" text-anchor="end"  style="">8</text>
<line x1="445.8" y1="341.9" x2="449.2" y2="341.9" stroke="#000" stroke-width="1.2"/>
<text x="442.0" y="345.09999999999997" font-size="9.5" text-anchor="end"  style="">6</text>
<line x1="445.8" y1="354.7" x2="449.2" y2="354.7" stroke="#000" stroke-width="1.2"/>
<text x="442.0" y="357.9" font-size="9.5" text-anchor="end"  style="">4</text>
<line x1="445.8" y1="367.5" x2="449.2" y2="367.5" stroke="#000" stroke-width="1.2"/>
<text x="442.0" y="370.7" font-size="9.5" text-anchor="end"  style="">2</text>
<line x1="445.8" y1="380.3" x2="449.2" y2="380.3" stroke="#000" stroke-width="1.2"/>
<text x="442.0" y="383.5" font-size="9.5" text-anchor="end"  style="">0</text>
<line x1="461.1" y1="380.3" x2="461.1" y2="383.7" stroke="#000" stroke-width="1.2"/>
<circle cx="458.3" cy="339.2" r="1.75" fill="#20478f"/>
<circle cx="463.4" cy="337.9" r="1.75" fill="#20478f"/>
<circle cx="466" cy="345" r="1.75" fill="#20478f"/>
<circle cx="456" cy="348.2" r="1.75" fill="#20478f"/>
<circle cx="461.1" cy="348.2" r="1.75" fill="#20478f"/>
<circle cx="458.3" cy="361.7" r="1.75" fill="#20478f"/>
<circle cx="463.4" cy="359.7" r="1.75" fill="#20478f"/>
<line x1="461.1" y1="339.6" x2="461.1" y2="357.8" stroke="#000" stroke-width="1.3"/>
<line x1="457.3" y1="339.6" x2="464.90000000000003" y2="339.6" stroke="#000" stroke-width="1.3"/>
<line x1="457.3" y1="357.8" x2="464.90000000000003" y2="357.8" stroke="#000" stroke-width="1.3"/>
<line x1="492.1" y1="380.3" x2="492.1" y2="383.7" stroke="#000" stroke-width="1.2"/>
<path d="M492.3,321.9 L494.3,325.5 L490.3,325.5 Z" fill="#b80a30"/>
<path d="M494.5,339.9 L496.5,343.5 L492.5,343.5 Z" fill="#b80a30"/>
<path d="M489.4,344.09999999999997 L491.4,347.7 L487.4,347.7 Z" fill="#b80a30"/>
<path d="M487.2,352.09999999999997 L489.2,355.7 L485.2,355.7 Z" fill="#b80a30"/>
<path d="M497.1,351.4 L499.1,355.0 L495.1,355.0 Z" fill="#b80a30"/>
<path d="M492.3,353.9 L494.3,357.5 L490.3,357.5 Z" fill="#b80a30"/>
<path d="M494.5,358.2 L496.5,361.8 L492.5,361.8 Z" fill="#b80a30"/>
<path d="M489.4,361.7 L491.4,365.3 L487.4,365.3 Z" fill="#b80a30"/>
<line x1="492.1" y1="337" x2="492.1" y2="362.3" stroke="#000" stroke-width="1.3"/>
<line x1="488.3" y1="337" x2="495.90000000000003" y2="337" stroke="#000" stroke-width="1.3"/>
<line x1="488.3" y1="362.3" x2="495.90000000000003" y2="362.3" stroke="#000" stroke-width="1.3"/>
<line x1="460.2" y1="318.6" x2="491.3" y2="318.6" stroke="#3a3a3a" stroke-width="1.4"/>
<text x="475.75" y="316.3" font-size="9.5" text-anchor="middle" textLength="11.5" lengthAdjust="spacingAndGlyphs"  style="">NS</text>
<text x="412.7" y="395.3" font-size="9.5" text-anchor="start" textLength="36.9" lengthAdjust="spacingAndGlyphs"  style="">Recipient</text>
<text x="452.5" y="395.3" font-size="9.5" text-anchor="start" textLength="15.5" lengthAdjust="spacingAndGlyphs"  style="">+/+</text>
<text x="472.9" y="395.3" font-size="9.5" text-anchor="start" textLength="38.6" lengthAdjust="spacingAndGlyphs"  style="font-style:italic">C587R/+</text>
<g transform="translate(423.8,384.2) rotate(-90)">
<text x="0" y="0" font-size="11" textLength="40.3" lengthAdjust="spacingAndGlyphs">Lymphocyte</text>
<text x="43.50" y="0" font-size="11" textLength="16.82" lengthAdjust="spacingAndGlyphs">(x10</text>
<text x="60.32" y="-3.7" font-size="7.8" textLength="3.27" lengthAdjust="spacingAndGlyphs">3</text>
<text x="63.59" y="0" font-size="11" textLength="12.21" lengthAdjust="spacingAndGlyphs">/µl)</text>
</g>
<rect x="332.6" y="55.8" width="9.9" height="38.2" fill="#386a4e" stroke="#2f5a42" stroke-width="0.6"/>
<rect x="348.40000000000003" y="53.9" width="9.9" height="40.1" fill="#67a744" stroke="#578d39" stroke-width="0.6"/>
<rect x="364.2" y="41.599999999999994" width="9.9" height="52.400000000000006" fill="#b2be88" stroke="#97a173" stroke-width="0.6"/>
<rect x="380.0" y="37.3" width="9.9" height="56.7" fill="#ebbb22" stroke="#c79e1c" stroke-width="0.6"/>
<rect x="395.8" y="33.3" width="9.9" height="60.7" fill="#dc8719" stroke="#bb7215" stroke-width="0.6"/>
<line x1="329.6" y1="27.4" x2="329.6" y2="94.6" stroke="#000" stroke-width="1.3"/>
<line x1="329" y1="94" x2="413.4" y2="94" stroke="#000" stroke-width="1.5"/>
<line x1="326.2" y1="94.0" x2="329.6" y2="94.0" stroke="#000" stroke-width="1.2"/>
<text x="323.4" y="97.2" font-size="9.5" text-anchor="end"  style="">0</text>
<line x1="326.2" y1="81.22" x2="329.6" y2="81.22" stroke="#000" stroke-width="1.2"/>
<text x="323.4" y="84.42" font-size="9.5" text-anchor="end"  style="">20</text>
<line x1="326.2" y1="68.44" x2="329.6" y2="68.44" stroke="#000" stroke-width="1.2"/>
<text x="323.4" y="71.64" font-size="9.5" text-anchor="end"  style="">40</text>
<line x1="326.2" y1="55.66" x2="329.6" y2="55.66" stroke="#000" stroke-width="1.2"/>
<text x="323.4" y="58.86" font-size="9.5" text-anchor="end"  style="">60</text>
<line x1="326.2" y1="42.879999999999995" x2="329.6" y2="42.879999999999995" stroke="#000" stroke-width="1.2"/>
<text x="323.4" y="46.08" font-size="9.5" text-anchor="end"  style="">80</text>
<line x1="326.2" y1="30.1" x2="329.6" y2="30.1" stroke="#000" stroke-width="1.2"/>
<text x="323.4" y="33.300000000000004" font-size="9.5" text-anchor="end"  style="">100</text>
<line x1="337.55" y1="94" x2="337.55" y2="97.2" stroke="#000" stroke-width="1.2"/>
<text x="337.55" y="50.5" font-size="9.5" text-anchor="middle"  style="">61</text>
<text transform="translate(340.95,105.3) rotate(-45)" font-size="9.0" text-anchor="end">Lymphocytes</text>
<line x1="353.35" y1="94" x2="353.35" y2="97.2" stroke="#000" stroke-width="1.2"/>
<text x="353.35" y="48.6" font-size="9.5" text-anchor="middle"  style="">64</text>
<text transform="translate(356.75,105.3) rotate(-45)" font-size="9.0" text-anchor="end">Platelets</text>
<line x1="369.15" y1="94" x2="369.15" y2="97.2" stroke="#000" stroke-width="1.2"/>
<text x="369.15" y="36.3" font-size="9.5" text-anchor="middle"  style="">83</text>
<text transform="translate(372.54999999999995,105.3) rotate(-45)" font-size="9.0" text-anchor="end">Monocytes</text>
<line x1="384.95" y1="94" x2="384.95" y2="97.2" stroke="#000" stroke-width="1.2"/>
<text x="384.95" y="32" font-size="9.5" text-anchor="middle"  style="">90</text>
<text transform="translate(388.34999999999997,105.3) rotate(-45)" font-size="9.0" text-anchor="end">Neutrophils</text>
<line x1="400.75" y1="94" x2="400.75" y2="97.2" stroke="#000" stroke-width="1.2"/>
<text x="400.75" y="28" font-size="9.5" text-anchor="middle"  style="">96</text>
<text transform="translate(404.15,105.3) rotate(-45)" font-size="9.0" text-anchor="end">Red Blood Cells</text>
<g transform="translate(300.1,85.6) rotate(-90)"><text x="0" y="0" font-size="10.6" textLength="49.6" lengthAdjust="spacingAndGlyphs">% of wild type</text></g>
</svg></body></html>
